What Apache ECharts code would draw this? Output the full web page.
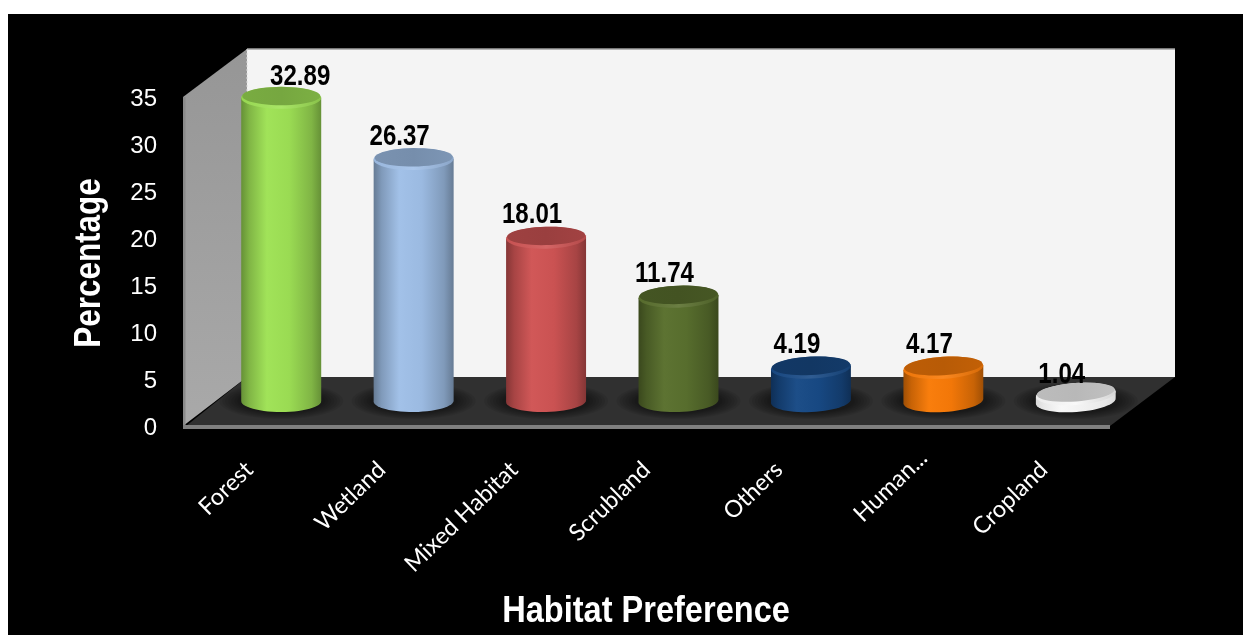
<!DOCTYPE html>
<html><head><meta charset="utf-8">
<style>html,body{margin:0;padding:0;background:#fff}#c{width:1243px;height:635px}</style>
<script src="https://cdn.jsdelivr.net/npm/echarts@6/dist/echarts.min.js"></script>
</head><body><div id="c"></div>
<script>
const categories = ['Forest','Wetland','Mixed Habitat','Scrubland','Others','Human...','Cropland'];
const values = [32.89,26.37,18.01,11.74,4.19,4.17,1.04];
const valueTicks = [0,5,10,15,20,25,30,35];
const palette = ['#9fe256','#a0c0e8','#d05555','#5a702e','#184a86','#f97b08','#f8f8f8'];
const xAxisTitle = 'Habitat Preference';
const yAxisTitle = 'Percentage';

const BOLD = '"Liberation Sans",sans-serif';
const WALL_DX = 64, WALL_DY = -48, BAR_DX = 32, BASE_DY = -25, TOP_DY = -19, MIN_CAP = 7;
const RX = 40, RY = 11, SHADOW_STEPS = 7;

const axisCategories = categories.map(c => c.endsWith('...') ? {value:c,textStyle:{padding:[0,-17,0,0]}} : c);

function mix(hex, target, t){
  const p = [1,3,5].map(k => parseInt(hex.substr(k,2),16));
  const q = target === 'w' ? [255,255,255] : [0,0,0];
  return 'rgb(' + p.map((c,i)=>Math.round(c+(q[i]-c)*t)).join(',') + ')';
}
function pt(cx,cy,rx,ry,tilt,a){
  const x=rx*Math.cos(a), y=ry*Math.sin(a);
  return [cx+x*Math.cos(tilt)+y*Math.sin(tilt), cy-x*Math.sin(tilt)+y*Math.cos(tilt)];
}
function arc(cx,cy,rx,ry,tilt,a0,a1,n){
  const out=[];
  for(let k=0;k<=n;k++) out.push(pt(cx,cy,rx,ry,tilt,a0+(a1-a0)*k/n));
  return out;
}
function lin(stops){ return new echarts.graphic.LinearGradient(0,0,1,0,stops.map(c=>({offset:c[0],color:c[1]}))); }

function renderRoom(params, api){
  const s = params.coordSys, x0=s.x, x1=s.x+s.width, yT=s.y, yB=s.y+s.height;
  const bx0=x0+WALL_DX, bx1=x1+WALL_DX+1, byT=yT+WALL_DY, byB=yB+WALL_DY-1;
  return {type:'group',children:[
    {type:'rect',shape:{x:bx0,y:byT,width:bx1-bx0,height:byB-byT},style:{fill:'#f4f4f4'}},
    {type:'line',shape:{x1:bx0,y1:byT,x2:bx1,y2:byT},style:{stroke:'#a0a0a0',lineWidth:1.5}},
    {type:'polygon',shape:{points:[[x0,yT],[bx0,byT],[bx0,byB],[x0,yB]]},
      style:{fill:new echarts.graphic.LinearGradient(0,0,0,1,[{offset:0,color:'#969696'},{offset:1,color:'#a9a9a9'}])}},
    {type:'line',shape:{x1:bx0,y1:byT,x2:bx0,y2:byB},style:{stroke:'#d8d8d8',lineWidth:1,lineDash:[2,2]}},
    {type:'polygon',shape:{points:[[x0+3,yB],[bx0,byB],[bx1,byB],[x1,yB]]},style:{fill:'#303030'}},
    {type:'rect',shape:{x:x0,y:yT,width:2.5,height:s.height},style:{fill:'#8a8a8a'}},
    {type:'rect',shape:{x:x0,y:yB-1,width:s.width,height:4},style:{fill:'#7f7f7f'}}
  ]};
}

function renderBar(params, api){
  const i = api.value(0), v = api.value(1);
  const p0 = api.coord([i,0]), pv = api.coord([i,v]);
  const cx = p0[0]+BAR_DX, by = p0[1]+BASE_DY, ty = Math.min(pv[1]+TOP_DY, by-MIN_CAP);
  const tilt = i*0.012, c = palette[params.dataIndex];
  const body = [pt(cx,ty,RX,RY,tilt,Math.PI)].concat(arc(cx,by,RX,RY,tilt,Math.PI,0,28)).concat([pt(cx,ty,RX,RY,tilt,0)]);
  const dark = c==='#f8f8f8' ? 0.12 : 0.36;
  const shadow = [];
  for(let k=0;k<SHADOW_STEPS;k++){
    shadow.push({type:'ellipse',shape:{cx:cx,cy:by,rx:RX+22-3*k,ry:RY+7-k},style:{fill:'rgba(0,0,0,0.075)'}});
  }
  return {type:'group',children:shadow.concat([
    {type:'polygon',shape:{points:body},
      style:{fill:lin([[0,mix(c,'k',dark)],[0.1,mix(c,'k',dark*0.55)],[0.32,mix(c,'w',0.02)],[0.6,mix(c,'k',0.03)],[0.88,mix(c,'k',dark*0.55)],[1,mix(c,'k',dark)]])}},
    {type:'polygon',shape:{points:arc(cx,ty,RX,RY,tilt,0,Math.PI*2,48)},
      style:{fill:lin([[0,mix(c,'k',0.05)],[0.5,mix(c,'w',0.1)],[1,mix(c,'k',0.14)]])}},
    {type:'polygon',shape:{points:arc(cx,ty-1.8,RX-1,RY-1.8,tilt,0,Math.PI*2,48)},
      style:{fill:lin([[0,mix(c,'k',0.24)],[0.5,mix(c,'k',0.26)],[1,mix(c,'k',0.22)]])}},
    {type:'text',x:cx+(i===0?19:-14),y:ty-(i===0?21:(v<2?19:(v>20?22:23))),scaleX:0.83,
      style:{text:v.toFixed(2),x:0,y:0,align:'center',verticalAlign:'middle',
      fontFamily:BOLD,fontWeight:'bold',fontSize:29,fill:'#000'}}
  ])};
}

const chart = echarts.init(document.getElementById('c'),null,{renderer:'canvas'});
chart.setOption({
  animation:false,
  backgroundColor:'#fff',
  graphic:[
    {type:'rect',z:-10,x:8,y:14,shape:{x:0,y:0,width:1235,height:621},style:{fill:'#000'}},
    {type:'text',z:10,x:646,y:612,scaleX:0.88,style:{text:xAxisTitle,x:0,y:0,align:'center',verticalAlign:'middle',fill:'#fff',fontFamily:BOLD,fontWeight:'bold',fontSize:37}},
    {type:'text',z:10,x:90,y:263,rotation:Math.PI/2,scaleX:0.85,style:{text:yAxisTitle,x:0,y:0,align:'center',verticalAlign:'middle',fill:'#fff',fontFamily:BOLD,fontWeight:'bold',fontSize:37}}
  ],
  grid:{left:183,top:97,width:927,height:329,containLabel:false,outerBoundsMode:'none'},
  xAxis:{type:'category',data:axisCategories,
    axisLine:{show:false},axisTick:{show:false},splitLine:{show:false},
    axisLabel:{interval:0,rotate:44,color:'#fff',fontFamily:'Lato',fontSize:23.5,margin:40}},
  yAxis:{type:'value',min:valueTicks[0],max:valueTicks[valueTicks.length-1],interval:valueTicks[1]-valueTicks[0],
    axisLine:{show:false},axisTick:{show:false},splitLine:{show:false},
    axisLabel:{color:'#fff',fontFamily:'Liberation Sans',fontSize:24,margin:26,verticalAlign:'top',padding:[-10,0,0,0]}},
  series:[
    {type:'custom',clip:false,silent:true,z:1,data:[[0,0]],renderItem:renderRoom,encode:{x:0,y:1}},
    {type:'custom',clip:false,silent:true,z:2,data:values.map((v,i)=>[i,v]),renderItem:renderBar,encode:{x:0,y:1}}
  ]
});
</script></body></html>
